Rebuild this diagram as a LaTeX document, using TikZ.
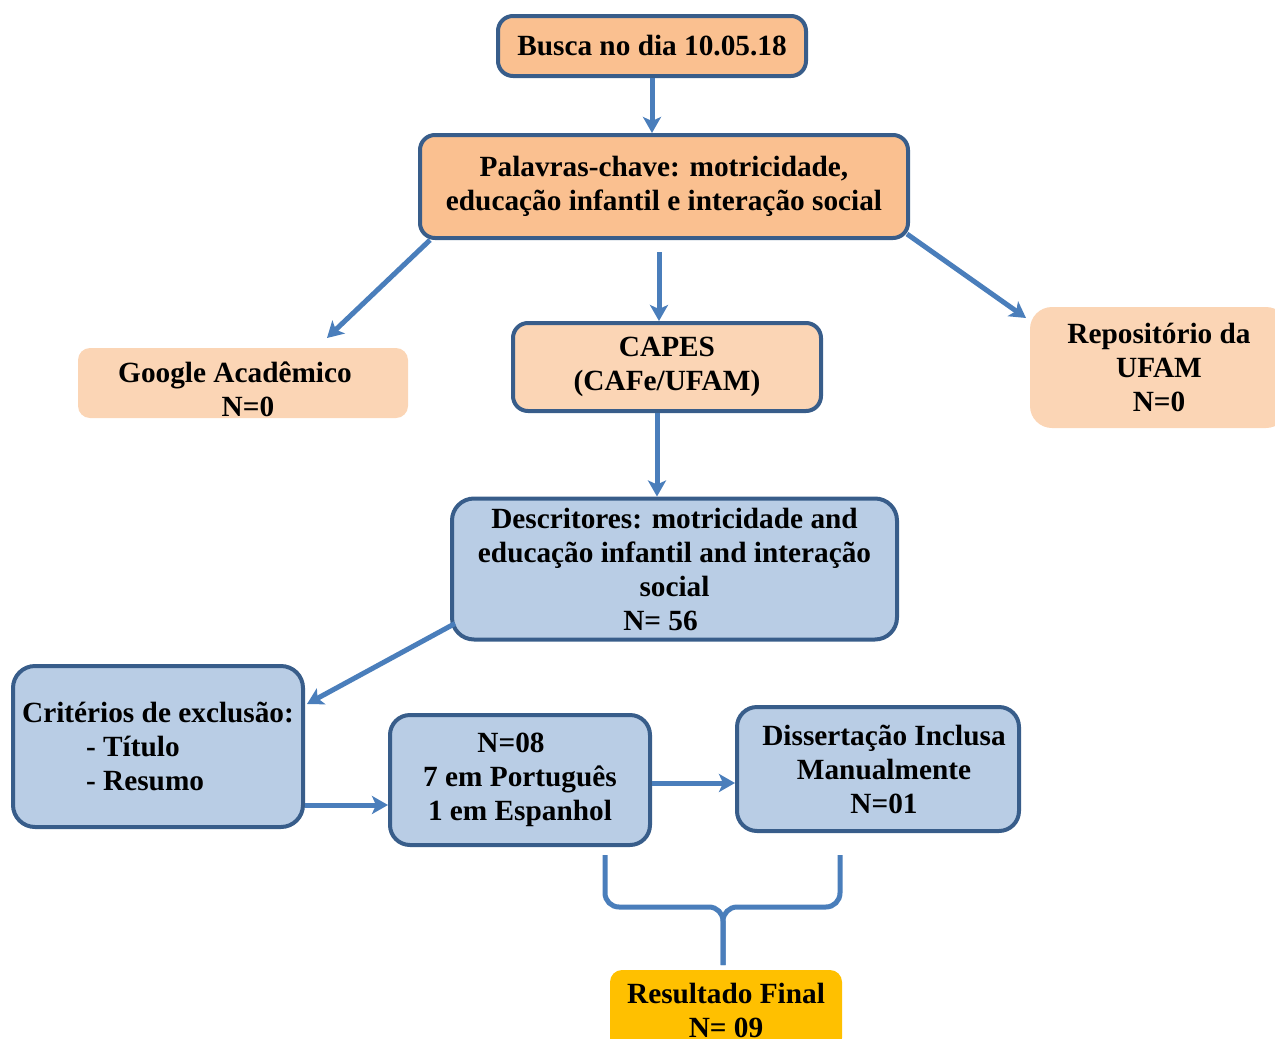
\documentclass[tikz,border=0pt]{standalone}
\usepackage{fontspec}
\setmainfont{Liberation Serif}
\usetikzlibrary{arrows.meta,positioning}

\definecolor{boxorange}{HTML}{FAC090}
\definecolor{boxpeach}{HTML}{FBD5B5}
\definecolor{boxblue}{HTML}{B9CDE5}
\definecolor{boxline}{HTML}{385D8A}
\definecolor{arrowblue}{HTML}{4A7EBB}
\definecolor{boxyellow}{HTML}{FFC000}

\begin{document}
\begin{tikzpicture}[x=1pt,y=-1pt,
    font=\fontsize{29.3}{34}\selectfont\bfseries]
      \useasboundingbox (0,0) rectangle (1275,1039);
      \begin{scope}[every node/.style={rounded corners=15pt,align=center,inner sep=0pt,line width=4pt}]
        \node (busca) [fill=boxorange,draw=boxline,minimum width=308pt,minimum height=60pt] at (652,46) {Busca no dia 10.05.18};
        \node (palavras) [fill=boxorange,draw=boxline,minimum width=488pt,minimum height=103pt] at (664,186.5) {Palavras-chave: motricidade,\\educação infantil e interação social};
        \node (google) [fill=boxpeach,rounded corners=12pt,minimum width=330pt,minimum height=70pt] at (243,383) {\raisebox{-16pt}[0pt][0pt]{\begin{tabular}{@{}c@{}}Google Acadêmico\hspace*{16pt}\\\hspace*{10pt}N=0\end{tabular}}};
        \node (capes) [fill=boxpeach,draw=boxline,minimum width=308pt,minimum height=88pt] at (667,367) {CAPES\\(CAFe/UFAM)};
        \node (repo) [fill=boxpeach,rounded corners=22pt,minimum width=258pt,minimum height=121pt] at (1159,367.5) {Repositório da\\UFAM\\N=0};
        \node (descritores) [fill=boxblue,draw=boxline,rounded corners=22pt,minimum width=445pt,minimum height=141pt] at (674.5,569) {Descritores: motricidade and\\educação infantil and interação\\social\\N= 56\hspace*{28pt}};
        \node (criterios) [fill=boxblue,draw=boxline,rounded corners=22pt,minimum width=290pt,minimum height=161pt,align=left] at (158,746.5) {Critérios de exclusão:\\\hspace*{64pt}- Título\\\hspace*{64pt}- Resumo};
        \node (n08) [fill=boxblue,draw=boxline,rounded corners=20pt,minimum width=260pt,minimum height=130pt] at (520,780) {N=08\hspace*{18pt}\\7 em Português\\1 em Espanhol};
        \node (dissert) [fill=boxblue,draw=boxline,rounded corners=20pt,minimum width=282pt,minimum height=124pt] at (878,769) {\hspace*{12pt}Dissertação Inclusa\\\hspace*{12pt}Manualmente\\\hspace*{12pt}N=01};
        \node (resultado) [fill=boxyellow,rounded corners=12pt,minimum width=232pt,minimum height=80pt] at (726,1010) {Resultado Final\\N= 09};
      \end{scope}
      \begin{scope}
        [every edge/.style={draw=arrowblue,line width=5pt,-{Stealth[length=16pt,width=18pt,inset=4pt]}}]
        \path (busca.south) edge (busca.south |- palavras.north);
        \path ([xshift=12pt]palavras.south west) edge ([shift={(-83,-8)}]google.north east);
        \path ([shift={(-5,12)}]palavras.south) edge ([xshift=-8pt]capes.north);
        \path ([shift={(-3,-6)}]palavras.south east) edge ([shift={(-2,13)}]repo.north west);
        \path ([xshift=-10pt]capes.south) edge ([xshift=-10pt]capes.south |- descritores.north);
        \path ([shift={(5,-18)}]descritores.south west) edge ([shift={(2,40)}]criterios.north east);
        \path ([shift={(0,58.5)}]criterios.east) edge ([shift={(0,25)}]n08.west);
        \path ([shift={(0,3)}]n08.east) edge ([shift={(0,14)}]dissert.west);
      \end{scope}
      % brace joining the two results
      \coordinate (braceL) at ([shift={(85,8)}]n08.south);
      \coordinate (braceR) at ([shift={(-38,22)}]dissert.south);
      \coordinate (braceM) at ([shift={(-3,-61)}]resultado.north);
      \draw[arrowblue,line width=5pt,rounded corners=14pt]
        (braceL) -- (braceL |- braceM) -- (braceM) -- ([shift={(-3,-3)}]resultado.north);
      \draw[arrowblue,line width=5pt,rounded corners=14pt]
        (braceR) -- (braceR |- braceM) -- (braceM) -- ([shift={(-3,-3)}]resultado.north);
    \end{tikzpicture}
\end{document}
